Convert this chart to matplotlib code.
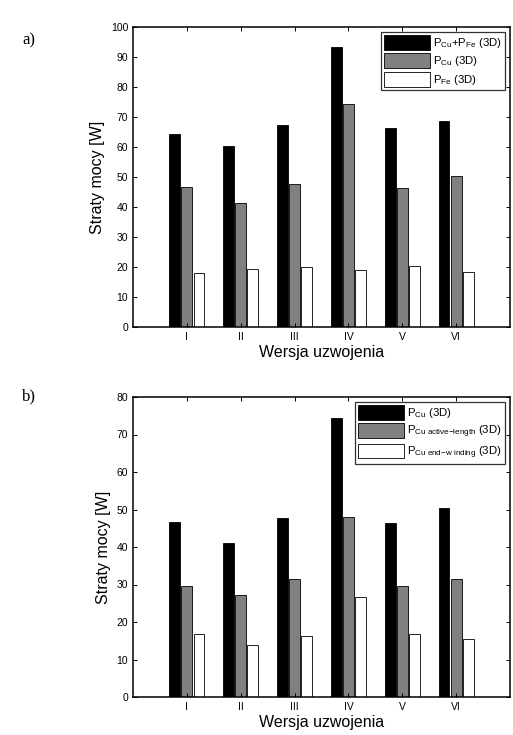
import numpy as np
import matplotlib
matplotlib.use("Agg")
import matplotlib.pyplot as plt

plt.rcParams['font.family'] = ['Liberation Sans', 'DejaVu Sans']
plt.rcParams['mathtext.fontset'] = 'custom'
plt.rcParams['mathtext.rm'] = 'Liberation Sans'
plt.rcParams['mathtext.it'] = 'Liberation Sans'

versions = ['I', 'II', 'III', 'IV', 'V', 'VI']

# a) total, copper, iron losses
a_total = [64.5, 60.2, 67.5, 93.3, 66.5, 68.6]
a_cu = [46.7, 41.2, 47.6, 74.4, 46.2, 50.3]
a_fe = [18.0, 19.2, 20.1, 19.0, 20.4, 18.3]

# b) copper, active-length, end-winding
b_cu = [46.7, 41.2, 47.8, 74.4, 46.3, 50.3]
b_active = [29.7, 27.3, 31.5, 48.0, 29.7, 31.5]
b_end = [16.8, 13.8, 16.3, 26.6, 16.8, 15.6]

colors = ['black', '#808080', 'white']
labels_a = [r'$\mathregular{P_{Cu}}$+$\mathregular{P_{Fe}}$ (3D)',
            r'$\mathregular{P_{Cu}}$ (3D)',
            r'$\mathregular{P_{Fe}}$ (3D)']
labels_b = [r'$\mathregular{P_{Cu}}$ (3D)',
            r'$\mathregular{P_{Cu\ active\!-\!length}}$ (3D)',
            r'$\mathregular{P_{Cu\ end\!-\!w\ inding}}$ (3D)']

W, H = 513, 735
fig = plt.figure(figsize=(W / 100, H / 100), dpi=100)
ax1 = fig.add_axes([133 / W, 1 - 327 / H, 377 / W, 300 / H])
ax2 = fig.add_axes([133 / W, 1 - 697 / H, 377 / W, 300 / H])


def draw(ax, series, labels, ymax):
    x = np.arange(1, len(versions) + 1)
    offs = [-0.225, 0.0, 0.225]
    for s, c, lab, o in zip(series, colors, labels, offs):
        ax.bar(x + o, s, width=0.2, color=c, edgecolor='black', linewidth=0.6, label=lab)
    ax.set_xlim(0, 7)
    ax.set_ylim(0, ymax)
    ax.set_xticks(x)
    ax.set_xticklabels(versions)
    ax.set_yticks(np.arange(0, ymax + 1, 10))
    ax.tick_params(direction='in', top=True, right=True, labelsize=7.5, length=3, width=0.7)
    for sp in ax.spines.values():
        sp.set_linewidth(1.1)
    ax.set_xlabel('Wersja uzwojenia', fontsize=11.5, labelpad=2)
    ax.set_ylabel('Straty mocy [W]', fontsize=11.5, labelpad=4)
    leg = ax.legend(loc='upper right', fontsize=8.2, frameon=True, fancybox=False,
                    edgecolor='black', handlelength=4.0, handleheight=1.6,
                    borderpad=0.3, labelspacing=0.3, handletextpad=0.3,
                    borderaxespad=0.4)
    leg.get_frame().set_linewidth(0.9)


draw(ax1, [a_total, a_cu, a_fe], labels_a, 100)
draw(ax2, [b_cu, b_active, b_end], labels_b, 80)

fig.text(22 / W, 1 - 40 / H, 'a)', fontsize=12, family='Liberation Serif', va='center')
fig.text(22 / W, 1 - 396 / H, 'b)', fontsize=12, family='Liberation Serif', va='center')

fig.savefig('out.png', dpi=100)
